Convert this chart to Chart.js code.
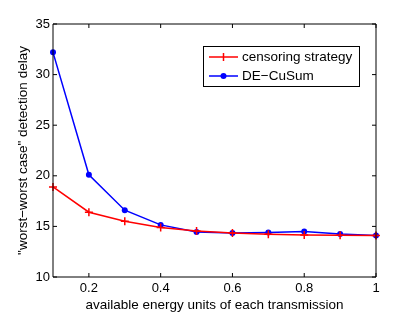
<!DOCTYPE html>
<html>
<head>
<meta charset="utf-8">
<script src="https://cdn.jsdelivr.net/npm/chart.js@4"></script>
<style>
  html, body { margin: 0; padding: 0; background: #fff; }
  #wrap { width: 415px; height: 313px; }
</style>
</head>
<body>
<div id="wrap"><canvas id="delayChart" width="415" height="313"></canvas></div>
<script>
// energy units per transmission (x axis)
const energyUnits = [0.1, 0.2, 0.3, 0.4, 0.5, 0.6, 0.7, 0.8, 0.9, 1.0];
// worst-worst case detection delay
const censoringDelay = [18.9, 16.4, 15.5, 14.9, 14.55, 14.35, 14.22, 14.15, 14.12, 14.1];
const deCusumDelay = [32.2, 20.1, 16.6, 15.15, 14.45, 14.35, 14.4, 14.5, 14.25, 14.1];
const xTicks = [0.2, 0.4, 0.6, 0.8, 1];
const yTicks = [10, 15, 20, 25, 30, 35];

const FONT = 'Liberation Sans, Arial, Helvetica, sans-serif';

// MATLAB style frame with inward ticks on all four sides
const framePlugin = {
    id: 'frame',
    afterDatasetsDraw(chart) {
        const { ctx, chartArea: a, scales } = chart;
        ctx.save();
        ctx.strokeStyle = '#000';
        ctx.lineWidth = 1;
        ctx.beginPath();
        ctx.rect(a.left, a.top, a.right - a.left, a.bottom - a.top);
        ctx.stroke();
        const len = 4;
        ctx.beginPath();
        xTicks.forEach(v => {
            const x = scales.x.getPixelForValue(v);
            ctx.moveTo(x, a.bottom); ctx.lineTo(x, a.bottom - len);
            ctx.moveTo(x, a.top); ctx.lineTo(x, a.top + len);
        });
        yTicks.forEach(v => {
            const y = scales.y.getPixelForValue(v);
            ctx.moveTo(a.left, y); ctx.lineTo(a.left + len, y);
            ctx.moveTo(a.right, y); ctx.lineTo(a.right - len, y);
        });
        ctx.stroke();
        ctx.restore();
    }
};

// boxed legend with line + marker samples
const legendPlugin = {
    id: 'boxLegend',
    afterDraw(chart) {
        const { ctx } = chart;
        const bx = 203, by = 46, bw = 156, bh = 40;
        ctx.save();
        ctx.fillStyle = '#fff';
        ctx.fillRect(bx, by, bw, bh);
        ctx.strokeStyle = '#000';
        ctx.lineWidth = 1;
        ctx.strokeRect(bx + 0.5, by + 0.5, bw, bh);
        chart.data.datasets.forEach((ds, i) => {
            const y = by + 11 + i * 19;
            ctx.strokeStyle = ds.borderColor;
            ctx.lineWidth = 1.5;
            ctx.beginPath();
            ctx.moveTo(bx + 6, y);
            ctx.lineTo(bx + 35, y);
            ctx.stroke();
            if (ds.pointStyle === 'cross') {
                ctx.beginPath();
                ctx.moveTo(bx + 20.5, y - 4); ctx.lineTo(bx + 20.5, y + 4);
                ctx.stroke();
            } else {
                ctx.fillStyle = ds.borderColor;
                ctx.beginPath();
                ctx.arc(bx + 20.5, y, 3, 0, Math.PI * 2);
                ctx.fill();
            }
            ctx.fillStyle = '#000';
            ctx.font = '13.5px ' + FONT;
            ctx.textBaseline = 'middle';
            ctx.fillText(ds.label, bx + 39, y);
        });
        ctx.restore();
    }
};

const ctx = document.getElementById('delayChart').getContext('2d');
new Chart(ctx, {
    type: 'line',
    data: {
        datasets: [{
            label: 'censoring strategy',
            data: energyUnits.map((x, i) => ({ x: x, y: censoringDelay[i] })),
            borderColor: '#ff0000',
            backgroundColor: '#ff0000',
            borderWidth: 1.5,
            pointStyle: 'cross',
            pointRadius: 4,
            pointBorderWidth: 1.5,
            tension: 0,
            fill: false
        }, {
            label: 'DE\u2212CuSum',
            data: energyUnits.map((x, i) => ({ x: x, y: deCusumDelay[i] })),
            borderColor: '#0000ff',
            backgroundColor: '#0000ff',
            borderWidth: 1.5,
            pointStyle: 'circle',
            pointRadius: 3,
            pointBorderWidth: 0,
            tension: 0,
            fill: false
        }]
    },
    options: {
        responsive: false,
        animation: false,
        clip: false,
        layout: { padding: { left: 0, top: 24, right: 39, bottom: 0 } },
        plugins: { legend: { display: false }, tooltip: { enabled: false } },
        scales: {
            x: {
                type: 'linear',
                min: 0.1,
                max: 1,
                afterBuildTicks: s => { s.ticks = xTicks.map(v => ({ value: v })); },
                afterFit: s => { s.height = 36; },
                grid: { display: false, drawTicks: false },
                border: { display: false },
                ticks: {
                    padding: 4,
                    color: '#000',
                    font: { family: FONT, size: 13 },
                    maxRotation: 0,
                    callback: v => String(v)
                },
                title: {
                    display: true,
                    text: 'available energy units of each transmission',
                    color: '#000',
                    font: { family: FONT, size: 13.5 },
                    padding: { top: 0, bottom: 0 }
                }
            },
            y: {
                min: 10,
                max: 35,
                afterBuildTicks: s => { s.ticks = yTicks.map(v => ({ value: v })); },
                afterFit: s => { s.width = 53; },
                grid: { display: false, drawTicks: false },
                border: { display: false },
                ticks: {
                    padding: 3,
                    color: '#000',
                    font: { family: FONT, size: 13 }
                },
                title: {
                    display: true,
                    text: '"worst\u2212worst case" detection delay',
                    color: '#000',
                    font: { family: FONT, size: 13.5 },
                    padding: { top: 15, bottom: 0 }
                }
            }
        }
    },
    plugins: [framePlugin, legendPlugin]
});
</script>
</body>
</html>
